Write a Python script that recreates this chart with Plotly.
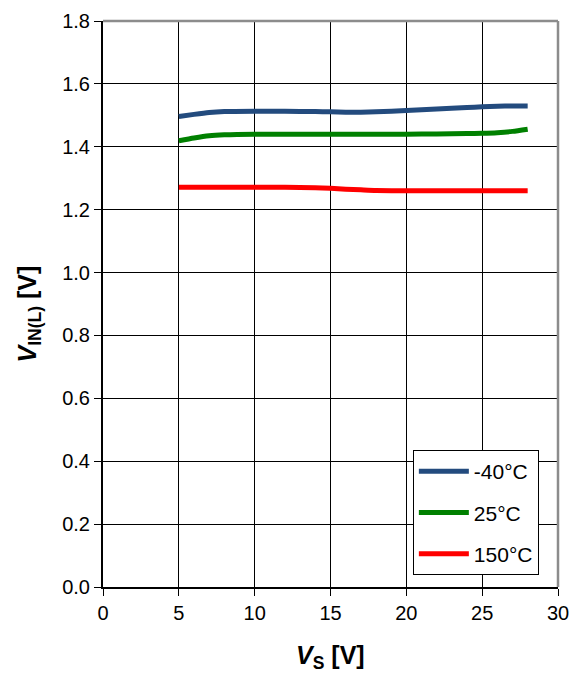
import plotly.graph_objects as go

vs = [5, 6, 7, 8, 10, 12, 14, 15, 16, 17, 18, 20, 22, 24, 25, 26, 27, 28]
v_m40 = [1.496, 1.503, 1.509, 1.512, 1.513, 1.513, 1.512, 1.511, 1.510, 1.510, 1.511, 1.515, 1.520, 1.525, 1.527, 1.529, 1.530, 1.530]
v_25 = [1.419, 1.428, 1.435, 1.438, 1.440, 1.440, 1.440, 1.440, 1.440, 1.440, 1.440, 1.440, 1.441, 1.442, 1.443, 1.445, 1.449, 1.456]
v_150 = [1.271, 1.271, 1.271, 1.271, 1.271, 1.271, 1.270, 1.268, 1.265, 1.263, 1.261, 1.260, 1.260, 1.260, 1.260, 1.260, 1.260, 1.260]

names = ["-40°C", "25°C", "150°C"]
series = [v_m40, v_25, v_150]
colors = ["#234B7E", "#008000", "#FF0000"]

fig = go.Figure()
for i, (n, s, c) in enumerate(zip(names, series, colors)):
    fig.add_trace(go.Scatter(x=vs, y=s, name=n, mode="lines",
                             line=dict(color=c, width=5, shape="spline", smoothing=0.6),
                             legendgroup=f"g{i}"))

font = "Arial, 'Liberation Sans', sans-serif"
fig.update_layout(
    width=571, height=674,
    margin=dict(l=103, r=13, t=21, b=87, autoexpand=False),
    paper_bgcolor="white", plot_bgcolor="white",
    font=dict(family=font, size=20, color="black"),
    showlegend=True,
    legend=dict(x=0.681, y=0.242, xanchor="left", yanchor="top",
                bgcolor="white", bordercolor="black", borderwidth=1,
                font=dict(size=21, family=font), tracegroupgap=11,
                itemwidth=50, entrywidth=134, entrywidthmode="pixels"),
    xaxis=dict(range=[0, 30], tickvals=[0, 5, 10, 15, 20, 25, 30],
               showgrid=True, gridcolor="black", gridwidth=1,
               showline=True, linecolor="black", linewidth=2,
               ticks="outside", ticklen=7, tickcolor="black", tickwidth=1,
               zeroline=False, automargin=False,
               tickfont=dict(size=20)),
    yaxis=dict(range=[0, 1.8], tickvals=[0, 0.2, 0.4, 0.6, 0.8, 1.0, 1.2, 1.4, 1.6, 1.8],
               tickformat=".1f",
               showgrid=True, gridcolor="black", gridwidth=1,
               showline=True, linecolor="black", linewidth=2,
               ticks="outside", ticklen=7, tickcolor="black", tickwidth=1,
               zeroline=False, automargin=False,
               tickfont=dict(size=20)),
    annotations=[
        dict(text="<b><i>V</i><sub>S</sub> [V]</b>", xref="paper", yref="paper",
             x=0.5, y=-0.124, xanchor="center", yanchor="middle", showarrow=False,
             font=dict(size=25)),
        dict(text="<b><i>V</i><sub>IN(L)</sub> [V]</b>", xref="paper", yref="paper",
             x=-0.162, y=0.482, xanchor="center", yanchor="middle", showarrow=False,
             textangle=-90, font=dict(size=25)),
    ],
    shapes=[
        dict(type="line", xref="paper", yref="paper", x0=0, x1=1, y0=1, y1=1,
             line=dict(color="#8C8C8C", width=2.5)),
        dict(type="line", xref="paper", yref="paper", x0=1, x1=1, y0=0, y1=1,
             line=dict(color="#8C8C8C", width=2.5)),
    ],
)

fig.write_html("out.html", config={"displayModeBar": False},
               post_script="document.body.style.margin='0';document.body.style.overflow='hidden';")
